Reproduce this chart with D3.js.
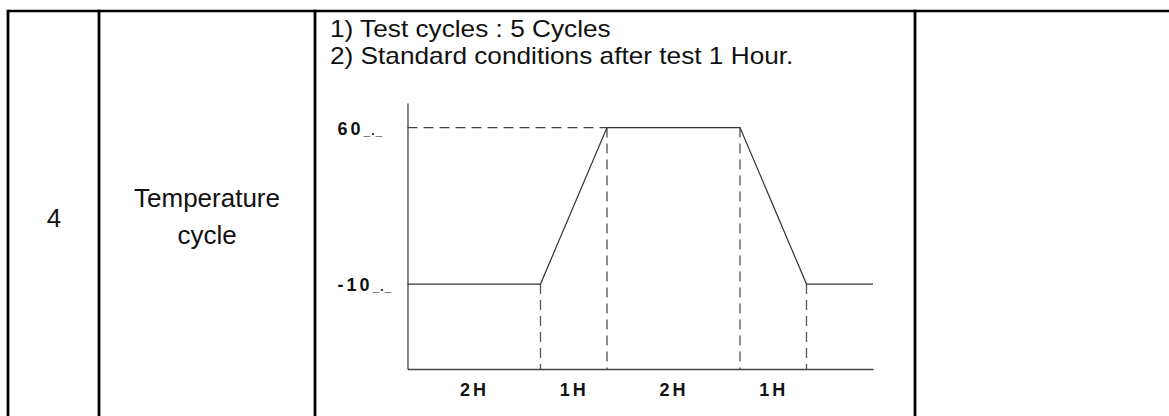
<!DOCTYPE html>
<html>
<head>
<meta charset="utf-8">
<script src="https://cdn.jsdelivr.net/npm/d3@7"></script>
<style>
  body { margin: 0; background: #fff; }
  svg { display: block; }
</style>
</head>
<body>
<div id="chartContainer"></div>
<script>
// table cell texts
var itemNo = '4';
var itemName = ['Temperature', 'cycle'];
var notes = ['1) Test cycles : 5 Cycles', '2) Standard conditions after test 1 Hour.'];

// temperature profile (hours, degC)
var profileHours = [0, 2, 3, 5, 6, 7];
var profileTemps = [-10, -10, 60, 60, -10, -10];

// step durations shown under the axis
var stepHours = [2, 1, 2, 1];
var stepLabels = ['2H', '1H', '2H', '1H'];

// temperature ticks
var tempTicks = [60, -10];
var tempLabels = ['60', '-10'];

var width = 1169;
var height = 416;
var colEdges = [8, 99, 315, 915];
var tableTop = 11;

var svg = d3.select('#chartContainer').
append('svg').
attr('width', width).
attr('height', height);

// table grid
svg.append('line').
attr('x1', colEdges[0]).attr('x2', width).
attr('y1', tableTop).attr('y2', tableTop).
attr('stroke', '#000').attr('stroke-width', 2.6);

svg.selectAll('line.col').
data(colEdges).
enter().
append('line').
attr('class', 'col').
attr('x1', function (d) { return d; }).
attr('x2', function (d) { return d; }).
attr('y1', tableTop - 1.3).
attr('y2', height).
attr('stroke', '#000').
attr('stroke-width', 2.8);

var bodyFont = '"Liberation Sans", Arial, sans-serif';

svg.append('text').
attr('x', (colEdges[0] + colEdges[1]) / 2 + 0.5).
attr('y', 227).
attr('text-anchor', 'middle').
style('font-family', bodyFont).
style('font-size', '26px').
attr('fill', '#111').
text(itemNo);

svg.selectAll('text.name').
data(itemName).
enter().
append('text').
attr('class', 'name').
attr('x', 207).
attr('y', function (d, i) { return 207 + i * 37; }).
attr('text-anchor', 'middle').
style('font-family', bodyFont).
style('font-size', '26px').
attr('fill', '#111').
text(function (d) { return d; });

// notes: slightly condensed, tall glyphs as in the original
svg.selectAll('text.note').
data(notes).
enter().
append('text').
attr('class', 'note').
attr('transform', function (d, i) {
  return 'translate(330,' + (36.5 + i * 27) + ') scale(1.14,1)';
}).
style('font-family', bodyFont).
style('font-size', '23px').
attr('fill', '#111').
text(function (d) { return d; });

// chart
var xScale = d3.scaleLinear().
domain([0, d3.max(profileHours)]).
range([407.5, 873]);

var yScale = d3.scaleLinear().
domain([-48, 71]).
range([369, 103]);

var tickFont = '"Liberation Sans", Arial, sans-serif';

// step midpoints for the hour labels
var stepEnds = d3.cumsum(stepHours);
var stepMids = stepHours.map(function (h, i) { return stepEnds[i] - h / 2; });

function tempAt(t) {
  var i = profileHours.indexOf(t);
  return profileTemps[i];
}

// dashed guides
var topTemp = d3.max(profileTemps);
var firstTop = profileHours[profileTemps.indexOf(topTemp)];

svg.append('line').
attr('x1', xScale(0)).
attr('x2', xScale(firstTop)).
attr('y1', yScale(topTemp)).
attr('y2', yScale(topTemp)).
attr('stroke', '#444').
attr('stroke-width', 1.2).
attr('stroke-dasharray', '10,6');

svg.selectAll('line.guide').
data(stepEnds).
enter().
append('line').
attr('class', 'guide').
attr('x1', function (d) { return xScale(d); }).
attr('x2', function (d) { return xScale(d); }).
attr('y1', function (d) { return yScale(tempAt(d)); }).
attr('y2', yScale.range()[0]).
attr('stroke', '#555').
attr('stroke-width', 1.3).
attr('stroke-dasharray', '10,6');

// axes
var xAxis = d3.axisBottom(xScale).
tickValues(stepMids).
tickFormat(function (d, i) { return stepLabels[i]; }).
tickSize(0).
tickSizeOuter(0).
tickPadding(14);

var xAxisGroup = svg.append('g').
attr('transform', 'translate(0,' + yScale.range()[0] + ')').
call(xAxis);

xAxisGroup.select('.domain').attr('stroke', '#444').attr('stroke-width', 1.3);
xAxisGroup.selectAll('text').
style('font-family', tickFont).
style('font-size', '18px').
style('font-weight', 'bold').
style('letter-spacing', '3px').
attr('fill', '#111');

var yAxis = d3.axisLeft(yScale).
tickValues(tempTicks).
tickFormat(function (d, i) { return tempLabels[i]; }).
tickSize(0).
tickSizeOuter(0);

var yAxisGroup = svg.append('g').
attr('transform', 'translate(' + xScale.range()[0] + ',0)').
call(yAxis);

yAxisGroup.select('.domain').attr('stroke', '#444').attr('stroke-width', 1.3);
yAxisGroup.selectAll('text').
attr('x', -70).
attr('dy', '0.38em').
attr('text-anchor', 'start').
style('font-family', tickFont).
style('font-size', '18px').
style('font-weight', 'bold').
style('letter-spacing', '3px').
attr('fill', '#111').
append('tspan').
attr('dx', 0).
style('font-size', '12px').
style('letter-spacing', '1px').
text('_._');

// profile line
var line = d3.line().
x(function (d) { return xScale(d[0]); }).
y(function (d) { return yScale(d[1]); });

svg.append('path').
datum(profileHours.map(function (h, i) { return [h, profileTemps[i]]; })).
attr('d', line).
attr('fill', 'none').
attr('stroke', '#333').
attr('stroke-width', 1.2);
</script>
</body>
</html>
